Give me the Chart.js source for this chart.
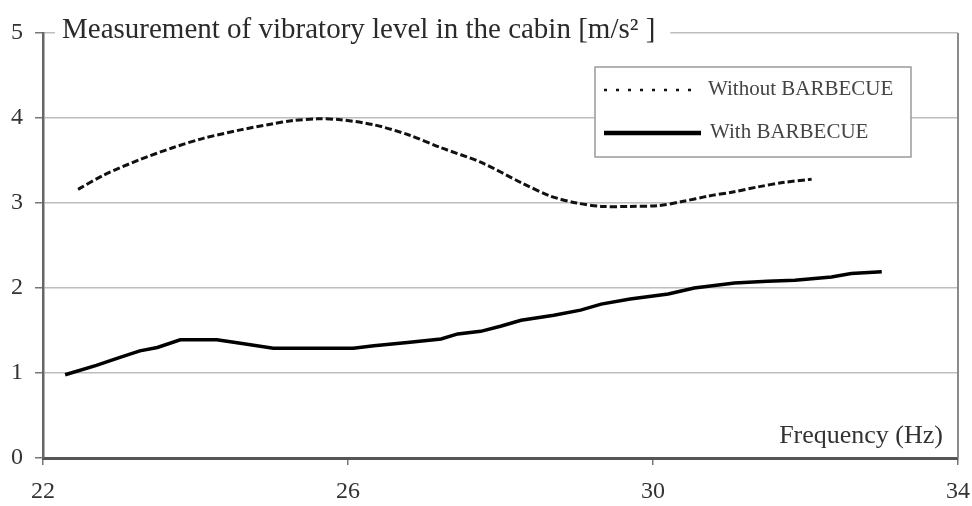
<!DOCTYPE html>
<html>
<head>
<meta charset="utf-8">
<script src="https://cdn.jsdelivr.net/npm/chart.js@4.4.1/dist/chart.umd.min.js"></script>
<style>
  html, body { margin: 0; padding: 0; background: #fff; }
  #wrap { width: 972px; height: 506px; }
</style>
</head>
<body>
<div id="wrap"><canvas id="chart" width="972" height="506"></canvas></div>
<script>
const titleText = "Measurement of vibratory level in the cabin [m/s\u00b2 ]";
const xTitle = "Frequency (Hz)";

const withoutFreq = [22.46, 22.8, 23.27, 23.7, 24.1, 24.59, 25.0, 25.28, 25.6, 25.9, 26.34, 26.8, 27.22, 27.74, 28.27, 28.66, 29.0, 29.32, 29.7, 30.07, 30.4, 30.72, 31.05, 31.38, 31.7, 32.08];
const withoutVals = [3.16, 3.33, 3.51, 3.65, 3.76, 3.86, 3.93, 3.97, 3.99, 3.98, 3.92, 3.8, 3.65, 3.48, 3.24, 3.08, 3.0, 2.96, 2.96, 2.97, 3.02, 3.08, 3.13, 3.19, 3.24, 3.28];

const withFreq = [22.29, 22.7, 23.0, 23.27, 23.5, 23.8, 24.28, 24.59, 25.02, 26.07, 26.34, 26.78, 27.22, 27.44, 27.74, 28.0, 28.27, 28.7, 29.05, 29.32, 29.7, 30.2, 30.54, 31.07, 31.5, 31.86, 32.34, 32.6, 33.0];
const withVals = [0.98, 1.09, 1.18, 1.26, 1.3, 1.39, 1.39, 1.35, 1.29, 1.29, 1.32, 1.36, 1.4, 1.46, 1.49, 1.55, 1.62, 1.68, 1.74, 1.81, 1.87, 1.93, 2.0, 2.06, 2.08, 2.09, 2.13, 2.17, 2.19];

const serif = "'Liberation Serif', 'DejaVu Serif', serif";

const toPoints = (xs, ys) => xs.map((x, i) => ({ x: x, y: ys[i] }));

// frame, title box, legend box and axis title
const decor = {
  id: "decor",
  afterDraw(chart) {
    const ctx = chart.ctx;
    const a = chart.chartArea;
    ctx.save();

    ctx.strokeStyle = "#8a8a8a";
    ctx.lineWidth = 2;
    ctx.beginPath();
    ctx.moveTo(a.right, a.top);
    ctx.lineTo(a.right, a.bottom);
    ctx.stroke();

    // title over the top line
    ctx.font = "29px " + serif;
    const tw = ctx.measureText(titleText).width;
    ctx.fillStyle = "#fff";
    ctx.fillRect(a.left + 12, a.top - 15, tw + 22, 30);
    ctx.fillStyle = "#2a2a2a";
    ctx.textBaseline = "alphabetic";
    ctx.fillText(titleText, a.left + 19, a.top + 5);

    // legend
    const lx = 595, ly = 67, lw = 316, lh = 90;
    ctx.fillStyle = "#fff";
    ctx.fillRect(lx, ly, lw, lh);
    ctx.strokeStyle = "#9a9a9a";
    ctx.lineWidth = 1.5;
    ctx.strokeRect(lx, ly, lw, lh);
    chart.data.datasets.forEach((ds, i) => {
      const y = ly + (i === 0 ? 23 : 66);
      ctx.strokeStyle = ds.borderColor;
      ctx.lineWidth = i === 0 ? 2.5 : 4.5;
      ctx.setLineDash(i === 0 ? [3, 9] : []);
      ctx.beginPath();
      ctx.moveTo(lx + 9, y);
      ctx.lineTo(lx + (i === 0 ? 97 : 106), y);
      ctx.stroke();
      ctx.setLineDash([]);
      ctx.fillStyle = "#444";
      ctx.font = "21px " + serif;
      ctx.textBaseline = "middle";
      ctx.fillText(ds.label, lx + (i === 0 ? 113 : 115), y - 1);
    });

    // axis title inside plot
    ctx.font = "26px " + serif;
    ctx.fillStyle = "#333";
    ctx.textAlign = "right";
    ctx.textBaseline = "middle";
    ctx.fillText(xTitle, a.right - 15, a.bottom - 22);
    ctx.restore();
  }
};

new Chart(document.getElementById("chart"), {
  type: "scatter",
  data: {
    datasets: [
      {
        label: "Without BARBECUE",
        data: toPoints(withoutFreq, withoutVals),
        showLine: true,
        borderColor: "#111",
        borderWidth: 3,
        borderDash: [7, 3],
        pointRadius: 0,
        tension: 0.3
      },
      {
        label: "With BARBECUE",
        data: toPoints(withFreq, withVals),
        showLine: true,
        borderColor: "#000",
        borderWidth: 3.5,
        pointRadius: 0,
        tension: 0
      }
    ]
  },
  options: {
    responsive: false,
    animation: false,
    layout: { padding: { top: 33, right: 14, left: 0, bottom: 0 } },
    plugins: { legend: { display: false }, tooltip: { enabled: false } },
    scales: {
      x: {
        type: "linear",
        min: 22,
        max: 34,
        afterFit: s => { s.height = 48; s.paddingRight = 0; s.paddingLeft = 0; },
        ticks: { stepSize: 4, color: "#333", font: { family: serif, size: 24 }, padding: 12 },
        grid: { drawOnChartArea: false, color: "#777", lineWidth: 1.5, tickLength: 7 },
        border: { color: "#555", width: 3 }
      },
      y: {
        min: 0,
        max: 5,
        afterFit: s => { s.width = 43; s.paddingTop = 0; s.paddingBottom = 0; },
        ticks: { stepSize: 1, color: "#333", font: { family: serif, size: 24 }, padding: 12 },
        grid: { color: "#bdbdbd", lineWidth: 1.5, tickLength: 8, tickColor: "#777" },
        border: { color: "#666", width: 2.5 }
      }
    }
  },
  plugins: [decor]
});
</script>
</body>
</html>
